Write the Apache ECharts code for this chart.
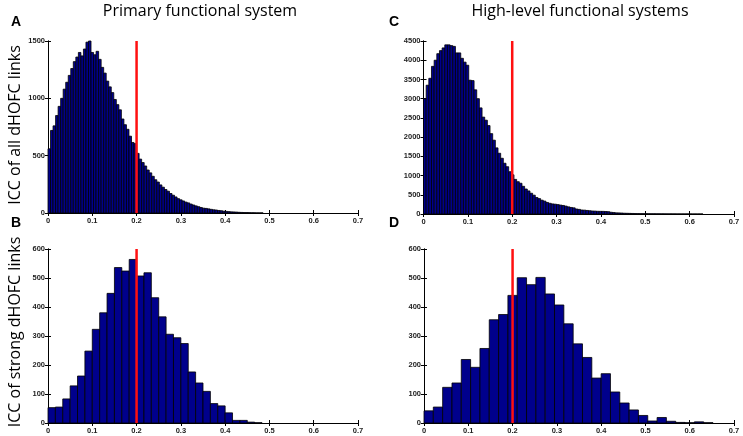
<!DOCTYPE html>
<html>
<head>
<meta charset="utf-8">
<script src="https://cdn.jsdelivr.net/npm/echarts@6/dist/echarts.min.js"></script>
<style>
  html, body { margin: 0; padding: 0; background: #fff; }
  #main { width: 743px; height: 436px; }
</style>
</head>
<body>
<div id="main"></div>
<script>
// histogram counts (bins start at 0)
const binWidthA = 0.2 / 35;
const countsA = [560, 720, 760, 850, 930, 1000, 1080, 1140, 1200, 1260, 1320, 1360, 1400, 1370, 1430,
  1490, 1500, 1400, 1380, 1410, 1340, 1270, 1220, 1150, 1100, 1050, 990, 945, 900, 820, 770, 730, 670,
  615, 605, 520, 470, 440, 410, 375, 350, 320, 290, 270, 245, 225, 205, 190, 170, 155, 140, 125, 115,
  105, 95, 88, 78, 70, 62, 55, 48, 42, 40, 36, 32, 28, 26, 22, 20, 16, 14, 12, 10, 9, 8, 6, 5, 4, 4,
  3, 2, 2, 1, 1, 1];

const binWidthB = 0.2 / 12;
const countsB = [53, 55, 83, 128, 162, 248, 323, 380, 447, 536, 524, 564, 507, 518, 432, 366, 306, 294,
  274, 176, 138, 109, 67, 59, 35, 9, 9, 3, 1];

const binWidthC = 0.006;
const countsC = [3000, 3350, 3530, 3840, 4000, 4170, 4250, 4320, 4400, 4400, 4380, 4360, 4190, 4190,
  4050, 3950, 3870, 3480, 3470, 3230, 3000, 2760, 2520, 2440, 2300, 2090, 1920, 1720, 1580, 1450, 1320,
  1230, 1100, 1020, 900, 840, 800, 720, 650, 600, 540, 490, 430, 400, 360, 335, 300, 278, 262, 255, 245,
  232, 222, 205, 185, 170, 160, 130, 120, 104, 100, 92, 85, 78, 75, 70, 69, 68, 65, 60, 45, 38, 30, 28,
  25, 20, 18, 16, 14, 12, 10, 9, 8, 8, 7, 6, 6, 5, 5, 4, 4, 3, 3, 3, 3, 2, 2, 2, 2, 2, 2, 1, 1, 1, 1];

const binWidthD = 0.4 / 19;
const countsD = [42, 55, 123, 138, 219, 192, 257, 356, 374, 440, 501, 477, 502, 445, 407, 342, 273, 226,
  155, 170, 107, 69, 45, 26, 7, 19, 6, 2, 1, 4, 1];

const threshold = 0.2;
const xTicks = [0, 0.7, 0.1];          // min, max, interval
const yMaxA = 1500, yStepA = 500;
const yMaxC = 4500, yStepC = 500;
const yMaxBD = 600, yStepBD = 100;

const colTitles = ['Primary functional system', 'High-level functional systems'];
const rowTitles = ['ICC of all dHOFC links', 'ICC of strong dHOFC links'];
const panelLetters = ['A', 'B', 'C', 'D'];

function toBins(counts, w) {
  return counts.map((v, i) => [i * w, (i + 1) * w, v]);
}

const panels = [
  { grid: { left: 48, top: 41, width: 310, height: 172 }, data: toBins(countsA, binWidthA), yMax: yMaxA, yStep: yStepA },
  { grid: { left: 48, top: 249, width: 310, height: 174 }, data: toBins(countsB, binWidthB), yMax: yMaxBD, yStep: yStepBD },
  { grid: { left: 423.5, top: 41, width: 310.5, height: 173 }, data: toBins(countsC, binWidthC), yMax: yMaxC, yStep: yStepC },
  { grid: { left: 424, top: 249, width: 310, height: 174 }, data: toBins(countsD, binWidthD), yMax: yMaxBD, yStep: yStepBD }
];

const tickFont = { fontFamily: 'Liberation Sans', fontSize: 7.5, color: '#222', fontWeight: 'bold' };
const axisLine = { show: true, lineStyle: { color: '#000', width: 1 } };
const tick = { show: true, inside: true, length: 3, lineStyle: { color: '#000' } };
const plain = v => String(v);

const grid = [], xAxis = [], yAxis = [], series = [];
panels.forEach((p, i) => {
  grid.push(p.grid);
  // bottom / left axes with labels
  xAxis.push({ type: 'value', gridIndex: i, position: 'bottom', min: xTicks[0], max: xTicks[1], interval: xTicks[2],
    axisLine: axisLine, axisTick: tick, splitLine: { show: false },
    axisLabel: Object.assign({ margin: 4, formatter: v => String(Math.round(v * 10) / 10) }, tickFont) });
  yAxis.push({ type: 'value', gridIndex: i, position: 'left', min: 0, max: p.yMax, interval: p.yStep,
    axisLine: axisLine, axisTick: tick, splitLine: { show: false },
    axisLabel: Object.assign({ margin: 3, formatter: plain }, tickFont) });
  // top / right axes for the box with inward ticks
  xAxis.push({ type: 'value', gridIndex: i, position: 'top', min: xTicks[0], max: xTicks[1], interval: xTicks[2],
    axisLine: axisLine, axisTick: tick, splitLine: { show: false }, axisLabel: { show: false } });
  yAxis.push({ type: 'value', gridIndex: i, position: 'right', min: 0, max: p.yMax, interval: p.yStep,
    axisLine: axisLine, axisTick: tick, splitLine: { show: false }, axisLabel: { show: false } });

  series.push({
    type: 'custom',
    xAxisIndex: i * 2,
    yAxisIndex: i * 2,
    data: p.data,
    encode: { x: [0, 1], y: 2 },
    renderItem: function (params, api) {
      const a = api.coord([api.value(0), 0]);
      const b = api.coord([api.value(1), api.value(2)]);
      return {
        type: 'rect',
        shape: { x: a[0], y: b[1], width: b[0] - a[0], height: a[1] - b[1] },
        style: { fill: '#00008c', stroke: '#000', lineWidth: 0.8 }
      };
    },
    z: 2
  });
  series.push({
    type: 'line',
    xAxisIndex: i * 2,
    yAxisIndex: i * 2,
    data: [[threshold, 0], [threshold, p.yMax]],
    symbol: 'none',
    lineStyle: { color: '#ff1010', width: 2.5 },
    z: 5,
    silent: true
  });
});

const titleFont = { fontFamily: 'Open Sans', fontSize: 16, fontWeight: 'normal', fill: '#000' };
const letterFont = { fontFamily: 'Liberation Sans', fontSize: 14, fontWeight: 'bold', fill: '#000' };

function label(text, x, y, font, rotation) {
  return { type: 'text', x: x, y: y, rotation: rotation || 0,
    style: Object.assign({ text: text, textAlign: 'center', textVerticalAlign: 'middle' }, font) };
}

const graphic = [
  label(colTitles[0], 200, 11, titleFont),
  label(colTitles[1], 580, 11, titleFont),
  label(rowTitles[0], 15, 125, titleFont, Math.PI / 2),
  label(rowTitles[1], 15, 332, titleFont, Math.PI / 2),
  label(panelLetters[0], 16, 22, letterFont),
  label(panelLetters[1], 16, 223, letterFont),
  label(panelLetters[2], 394, 22, letterFont),
  label(panelLetters[3], 394, 223, letterFont)
];

const chart = echarts.init(document.getElementById('main'));
chart.setOption({
  animation: false,
  backgroundColor: '#fff',
  grid: grid,
  xAxis: xAxis,
  yAxis: yAxis,
  series: series,
  graphic: graphic
});
</script>
</body>
</html>
